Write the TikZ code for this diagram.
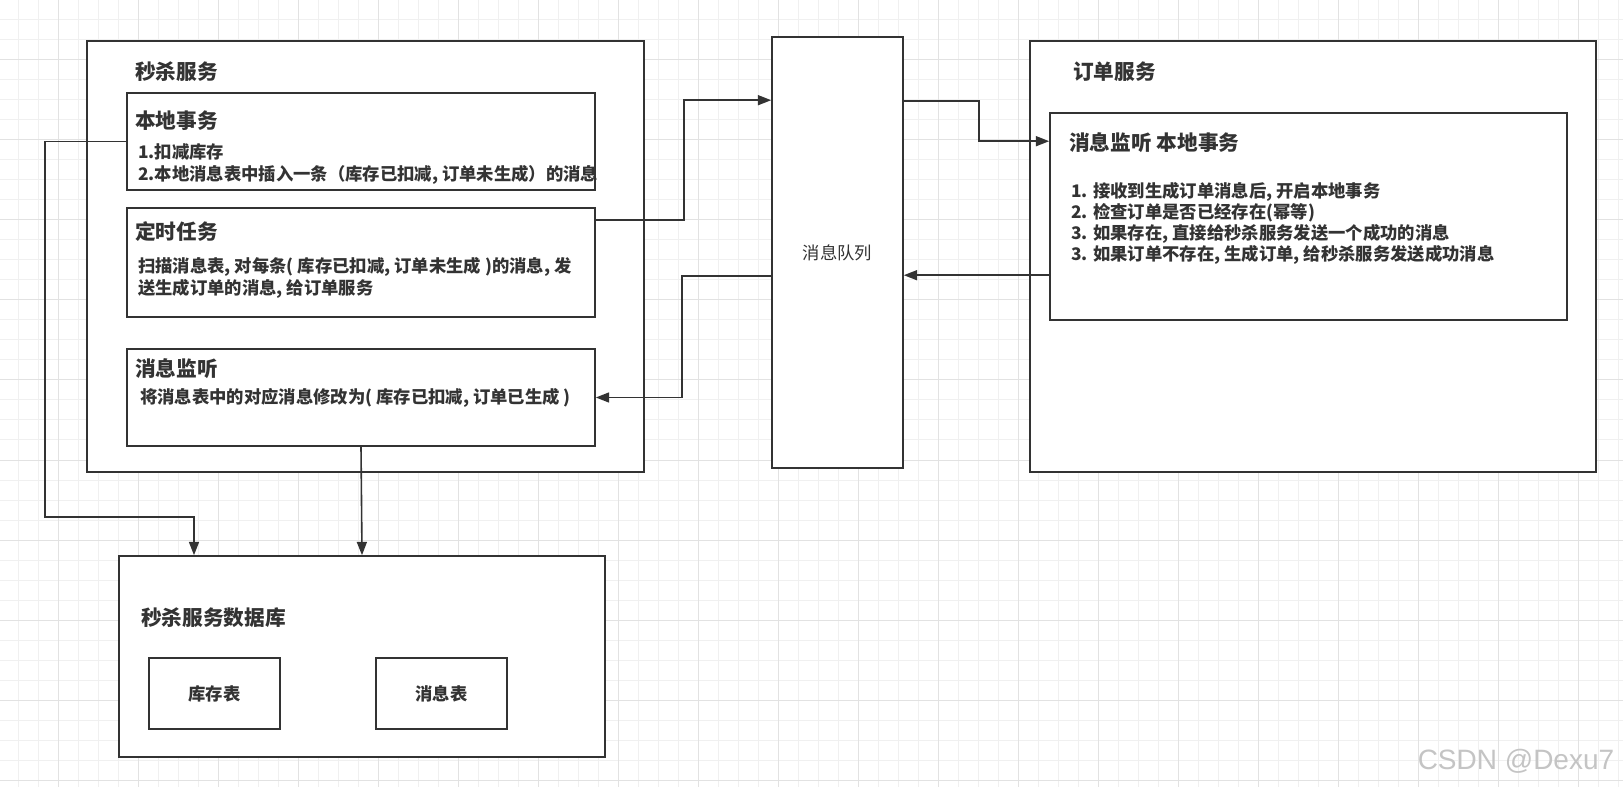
\documentclass[tikz,border=0pt]{standalone}
\usepackage{fontspec}
\setmainfont{Noto Sans CJK SC}
\newfontfamily\markfont{Liberation Sans}
\usepackage{tikz}
\usetikzlibrary{arrows.meta,calc,fit}
\definecolor{linec}{HTML}{333333}
\definecolor{gridc}{HTML}{F0F0F0}
\definecolor{gridd}{HTML}{E2E2E2}
\definecolor{markc}{HTML}{C4C4C4}

\begin{document}
\begin{tikzpicture}[x=0.75pt, y=-0.75pt,
    box/.style={draw=linec, line width=1.2pt, fill=white, inner sep=0pt, rectangle},
    title/.style={anchor=west, inner sep=0pt, text=linec, font=\fontsize{15.5}{18}\selectfont\bfseries},
    body/.style={anchor=west, inner sep=0pt, text=linec, align=left, font=\fontsize{13}{16.5}\selectfont\bfseries},
    arr/.style={draw=linec, line width=1.2pt, -{Triangle[length=10pt,width=7.5pt]}},
    gridminor/.style={draw=gridc, line width=0.75pt},
    gridmajor/.style={draw=gridd, line width=0.75pt}]
  \useasboundingbox (0,0) rectangle (1623,787);
  \fill[white] (0,0) rectangle (1623,787);
  % background grid
  \foreach \gx in {18,38,...,1618} \draw[gridminor] (\gx,0) -- (\gx,787);
  \foreach \gy in {0,20,...,780} \draw[gridminor] (0,\gy) -- (1623,\gy);
  \foreach \gx in {58,138,...,1618} \draw[gridmajor] (\gx,0) -- (\gx,787);
  \foreach \gy in {60,140,...,780} \draw[gridmajor] (0,\gy) -- (1623,\gy);

  % seckill service
  \node[box, fit={(87,41) (644,472)}] (seckill) {};
  \node[title] (seckilltitle) at (135,72) {秒杀服务};
  \node[box, fit={(127,93) (595,190)}] (localtx) {};
  \node[title] (localtxtitle) at (135,121) {本地事务};
  \node[body] (localtxbody) at (138,164) {1.扣减库存\\2.本地消息表中插入一条（库存已扣减, 订单未生成）的消息};
  \node[box, fit={(127,208) (595,317)}] (timer) {};
  \node[title] (timertitle) at (135,232) {定时任务};
  \node[body] (timerbody) at (138,277.5) {扫描消息表, 对每条( 库存已扣减, 订单未生成 )的消息, 发\\送生成订单的消息, 给订单服务};
  \node[box, fit={(127,349) (595,446)}] (listener) {};
  \node[title] (listenertitle) at (135,369) {消息监听};
  \node[body] (listenerbody) at (140,398) {将消息表中的对应消息修改为( 库存已扣减, 订单已生成 )};

  % message queue
  \node[box, fit={(772,37) (903,468)}] (mq) {};
  \node[text=linec, font=\fontsize{13}{16}\selectfont] (mqlabel) at (mq.center) {消息队列};

  % order service
  \node[box, fit={(1030,41) (1596,472)}] (order) {};
  \node[title] (ordertitle) at (1073,72) {订单服务};
  \node[box, fit={(1050,113) (1567,320)}] (handler) {};
  \node[title] (handlertitle) at (1069,143) {消息监听 本地事务};
  \node[body, font=\fontsize{13}{15.75}\selectfont\bfseries] (handlerbody) at (1071,223) {1. 接收到生成订单消息后, 开启本地事务\\2. 检查订单是否已经存在(幂等)\\3. 如果存在, 直接给秒杀服务发送一个成功的消息\\3. 如果订单不存在, 生成订单, 给秒杀服务发送成功消息};

  % database
  \node[box, fit={(119,556) (605,757)}] (db) {};
  \node[title] (dbtitle) at (141,618) {秒杀服务数据库};
  \node[box, fit={(149,658) (280,729)}] (stock) {};
  \node[text=linec, font=\fontsize{13}{16}\selectfont\bfseries] (stocklabel) at (stock.center) {库存表};
  \node[box, fit={(376,658) (507,729)}] (msgtab) {};
  \node[text=linec, font=\fontsize{13}{16}\selectfont\bfseries] (msgtablabel) at (msgtab.center) {消息表};

  % connectors
  \draw[arr] (localtx.west) -| (45,517) -| ($(db.north)+(-168,0)$);
  \draw[arr] (listener.south) -- (db.north);
  \draw[arr] ($(timer.north east)+(0,13)$) -- ++(88,0) |- ($(mq.north west)+(0,64)$);
  \draw[arr] ($(mq.north east)+(0,65)$) -- ++(75,0) |- ($(handler.north west)+(0,29)$);
  \draw[arr] ($(handler.north west)+(0,163)$) coordinate (hback) -- (hback -| mq.east);
  \draw[arr] ($(mq.north west)+(0,240)$) -- ++(-89,0) |- (listener.east);

  \node[text=markc, font=\markfont\fontsize{21}{24}\selectfont] (mark) at (1516,761) {CSDN @Dexu7};
\end{tikzpicture}
\end{document}
